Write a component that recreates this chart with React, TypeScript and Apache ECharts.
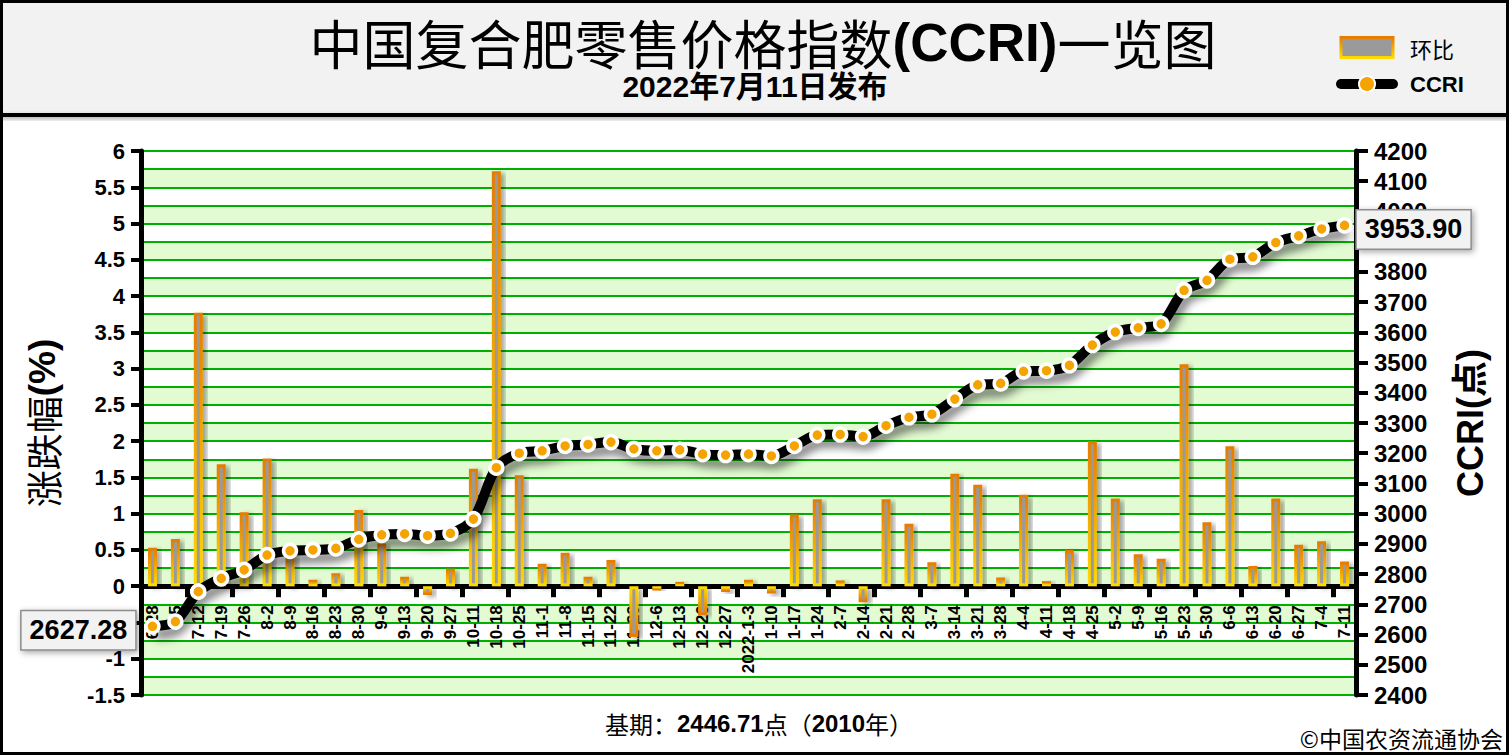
import React, { useEffect, useRef } from "react";
import * as echarts from "echarts";

const categories = ["6-28","7-5","7-12","7-19","7-26","8-2","8-9","8-16","8-23","8-30","9-6","9-13","9-20","9-27","10-11","10-18","10-25","11-1","11-8","11-15","11-22","11-29","12-6","12-13","12-20","12-27","2022-1-3","1-10","1-17","1-24","2-7","2-14","2-21","2-28","3-7","3-14","3-21","3-28","4-4","4-11","4-18","4-25","5-2","5-9","5-16","5-23","5-30","6-6","6-13","6-20","6-27","7-4","7-11"];

const changes = [0.53,0.65,3.77,1.68,1.02,1.76,0.45,0.09,0.18,1.05,0.59,0.13,-0.12,0.24,1.62,5.72,1.53,0.31,0.46,0.13,0.36,-0.70,-0.06,0.06,-0.40,-0.08,0.09,-0.10,0.99,1.20,0.08,-0.22,1.20,0.86,0.33,1.55,1.40,0.12,1.26,0.07,0.50,2.00,1.21,0.44,0.38,3.06,0.88,1.93,0.28,1.21,0.57,0.62,0.34];

const ccri = [2627.28,2643,2742,2786,2814,2863,2877,2880,2885,2915,2930,2933,2927,2935,2982,3152,3200,3208,3224,3229,3237,3214,3208,3211,3197,3194,3197,3191,3224,3260,3262,3255,3291,3319,3329,3379,3426,3431,3471,3473,3491,3558,3601,3615,3628,3739,3772,3842,3850,3897,3919,3942,3953.90];

const leftAxis = { min: -1.5, max: 6, interval: 0.5, band: 0.25 };
const rightAxis = { min: 2400, max: 4200, interval: 100 };

const FONT = "Arial, 'Liberation Sans', 'Noto Sans CJK SC', sans-serif";
const CJK = "'Noto Sans CJK SC', sans-serif";

const posGrad = () =>
  new echarts.graphic.LinearGradient(0, 0, 0, 1, [
    { offset: 0, color: "#e67c00" },
    { offset: 1, color: "#ffd900" },
  ]);
const negGrad = () =>
  new echarts.graphic.LinearGradient(0, 0, 0, 1, [
    { offset: 0, color: "#ffd900" },
    { offset: 1, color: "#e67c00" },
  ]);

export default function App() {
  const ref = useRef<HTMLDivElement>(null);
  useEffect(() => {
    document.body.style.margin = "0";
    if (!ref.current) return;
    const chart = echarts.init(ref.current, undefined, { renderer: "svg" });
    const last = ccri.length - 1;
    const labelBase = {
      show: true,
      formatter: (p: any) => Number(p.value).toFixed(2),
      fontSize: 27,
      fontWeight: "bold",
      fontFamily: FONT,
      color: "#000",
      backgroundColor: "#f2f2f2",
      borderColor: "#8c8c8c",
      borderWidth: 1.5,
      padding: [7, 8, 4, 8],
      shadowColor: "rgba(0,0,0,0.35)",
      shadowBlur: 6,
      shadowOffsetX: 2,
      shadowOffsetY: 2,
      offset: [0, 4],
    };
    const lineData = ccri.map((v, i) => {
      if (i === 0) return { value: v, label: { ...labelBase, position: "left", distance: 9 } };
      if (i === last) return { value: v, label: { ...labelBase, position: "right", distance: 4 } };
      return v;
    });
    const barData = changes.map((v) =>
      v < 0 ? { value: v, itemStyle: { borderColor: negGrad() } } : v
    );
    const option: any = {
      animation: false,
      textStyle: { fontFamily: FONT },
      grid: { left: 141, right: 153, top: 151, bottom: 61, containLabel: false, outerBoundsMode: "none" },
      legend: {
        orient: "vertical",
        left: 1331,
        top: 31,
        itemWidth: 52,
        itemHeight: 20,
        itemGap: 14,
        data: [
          {
            name: "环比",
            icon: "rect",
            itemStyle: { color: "#9a9a9a", borderColor: posGrad(), borderWidth: 3 },
          },
          { name: "CCRI", lineStyle: { width: 10, color: "#000", cap: "round" } },
        ],
        formatter: (n: string) => (n === "CCRI" ? "{b|CCRI}" : "{n|环比}"),
        textStyle: {
          rich: {
            b: { fontSize: 22, fontWeight: "bold", color: "#000", fontFamily: FONT, padding: [0, 0, 0, 12] },
            n: { fontSize: 22, color: "#000", fontFamily: CJK, padding: [0, 0, 0, 12] },
          },
        },
      },
      xAxis: {
        type: "category",
        data: categories,
        boundaryGap: true,
        offset: 0,
        axisLine: { onZero: false, lineStyle: { color: "#000", width: 5 } },
        axisTick: { show: true, interval: 1, length: 11, lineStyle: { color: "#000", width: 5 } },
        axisLabel: {
          interval: 0,
          rotate: 90,
          margin: 19,
          color: "#000",
          fontWeight: "bold",
          fontSize: 17,
          fontFamily: FONT,
        },
        splitLine: { show: false },
      },
      yAxis: [
        {
          type: "value",
          position: "left",
          min: leftAxis.min,
          max: leftAxis.max,
          interval: leftAxis.interval,
          axisLine: { show: true, lineStyle: { color: "#000", width: 5 } },
          axisTick: { show: true, length: 10, lineStyle: { color: "#000", width: 4 } },
          axisLabel: { color: "#000", fontWeight: "bold", fontSize: 22, margin: 16, fontFamily: FONT },
          splitLine: { show: false },
          name: "{n|涨跌幅}{b|(%)}",
          nameLocation: "middle",
          nameRotate: 90,
          nameGap: 80,
          nameTextStyle: {
            rich: {
              n: { fontSize: 37, color: "#000", fontFamily: CJK },
              b: { fontSize: 37, color: "#000", fontWeight: "bold", fontFamily: FONT },
            },
          },
        },
        {
          type: "value",
          position: "right",
          min: rightAxis.min,
          max: rightAxis.max,
          interval: rightAxis.interval,
          axisLine: { show: true, lineStyle: { color: "#000", width: 5 } },
          axisTick: { show: true, length: 12, lineStyle: { color: "#000", width: 4 } },
          axisLabel: {
            color: "#000",
            fontWeight: "bold",
            fontSize: 24,
            margin: 18,
            fontFamily: FONT,
            formatter: (v: number) => String(v),
          },
          splitLine: { show: false },
          name: "{b|CCRI(点)}",
          nameLocation: "middle",
          nameRotate: 90,
          nameGap: 96,
          nameTextStyle: {
            rich: {
              b: { fontSize: 36, color: "#000", fontWeight: "bold", fontFamily: FONT },
            },
          },
        },
        {
          type: "value",
          position: "left",
          min: leftAxis.min,
          max: leftAxis.max,
          interval: leftAxis.band,
          axisLine: { show: false },
          axisTick: { show: false },
          axisLabel: { show: false },
          splitLine: { show: true, lineStyle: { color: "#00b000", width: 2 } },
          splitArea: { show: true, areaStyle: { color: ["#e2fbd2", "#ffffff"] } },
        },
      ],
      series: [
        {
          name: "环比",
          type: "bar",
          yAxisIndex: 0,
          barWidth: 9,
          data: barData,
          itemStyle: {
            color: "#9a9a9a",
            borderColor: posGrad(),
            borderWidth: 3,
            shadowColor: "rgba(0,0,0,0.35)",
            shadowBlur: 5,
            shadowOffsetX: 4,
            shadowOffsetY: 2,
          },
          z: 2,
        },
        {
          name: "CCRI",
          type: "line",
          yAxisIndex: 1,
          data: lineData,
          smooth: 0.3,
          clip: false,
          symbol: "circle",
          symbolSize: 13,
          lineStyle: {
            color: "#000",
            width: 10,
            shadowColor: "rgba(0,0,0,0.5)",
            shadowBlur: 9,
            shadowOffsetX: 3,
            shadowOffsetY: 8,
          },
          itemStyle: { color: "#f5a300", borderColor: "#ffffff", borderWidth: 3.5 },
          z: 3,
        },
      ],
      graphic: [
        {
          type: "rect",
          z: -10,
          shape: { x: 0, y: 0, width: 1509, height: 115 },
          style: { fill: "#f2f2f2" },
        },
        {
          type: "rect",
          z: 10,
          shape: { x: 0, y: 113, width: 1509, height: 4 },
          style: { fill: "#000", shadowColor: "rgba(0,0,0,0.35)", shadowBlur: 4, shadowOffsetY: 2 },
        },
        {
          type: "rect",
          z: 10,
          shape: { x: 1.5, y: 1.5, width: 1506, height: 752 },
          style: { fill: "none", stroke: "#000", lineWidth: 3 },
        },
        {
          type: "text",
          z: 10,
          x: 763,
          y: 42,
          style: {
            text: "{n|中国复合肥零售价格指数}{b|(CCRI)}{n|一览图}",
            align: "center",
            verticalAlign: "middle",
            rich: {
              n: { fontSize: 53, fontFamily: CJK, fill: "#000", color: "#000" },
              b: { fontSize: 53, fontFamily: FONT, fontWeight: "bold", fill: "#000", color: "#000" },
            },
          },
        },
        {
          type: "text",
          z: 10,
          x: 755,
          y: 86,
          style: {
            text: "2022年7月11日发布",
            align: "center",
            verticalAlign: "middle",
            fontSize: 30,
            fontWeight: "bold",
            fontFamily: FONT,
            fill: "#000",
          },
        },
        {
          type: "text",
          z: 10,
          x: 759,
          y: 723,
          style: {
            text: "{n|基期：}{b|2446.71}{n|点（}{b|2010}{n|年）}",
            align: "center",
            verticalAlign: "middle",
            rich: {
              n: { fontSize: 24, fontFamily: CJK, fill: "#000", color: "#000" },
              b: { fontSize: 24, fontFamily: FONT, fontWeight: "bold", fill: "#000", color: "#000" },
            },
          },
        },
        {
          type: "text",
          z: 10,
          x: 1503,
          y: 738,
          style: {
            text: "©中国农资流通协会",
            align: "right",
            verticalAlign: "middle",
            fontSize: 23,
            fontFamily: CJK,
            fill: "#000",
          },
        },
      ],
    };
    chart.setOption(option);
    // Move the category axis up to the zero line of the left value axis.
    const zeroY = chart.convertToPixel({ yAxisIndex: 0 }, 0) as number;
    const minY = chart.convertToPixel({ yAxisIndex: 0 }, leftAxis.min) as number;
    if (isFinite(zeroY) && isFinite(minY)) {
      chart.setOption({ xAxis: { offset: zeroY - minY } });
    }
    return () => chart.dispose();
  }, []);
  return <div ref={ref} style={{ width: 1509, height: 756, overflow: "hidden" }} />;
}
